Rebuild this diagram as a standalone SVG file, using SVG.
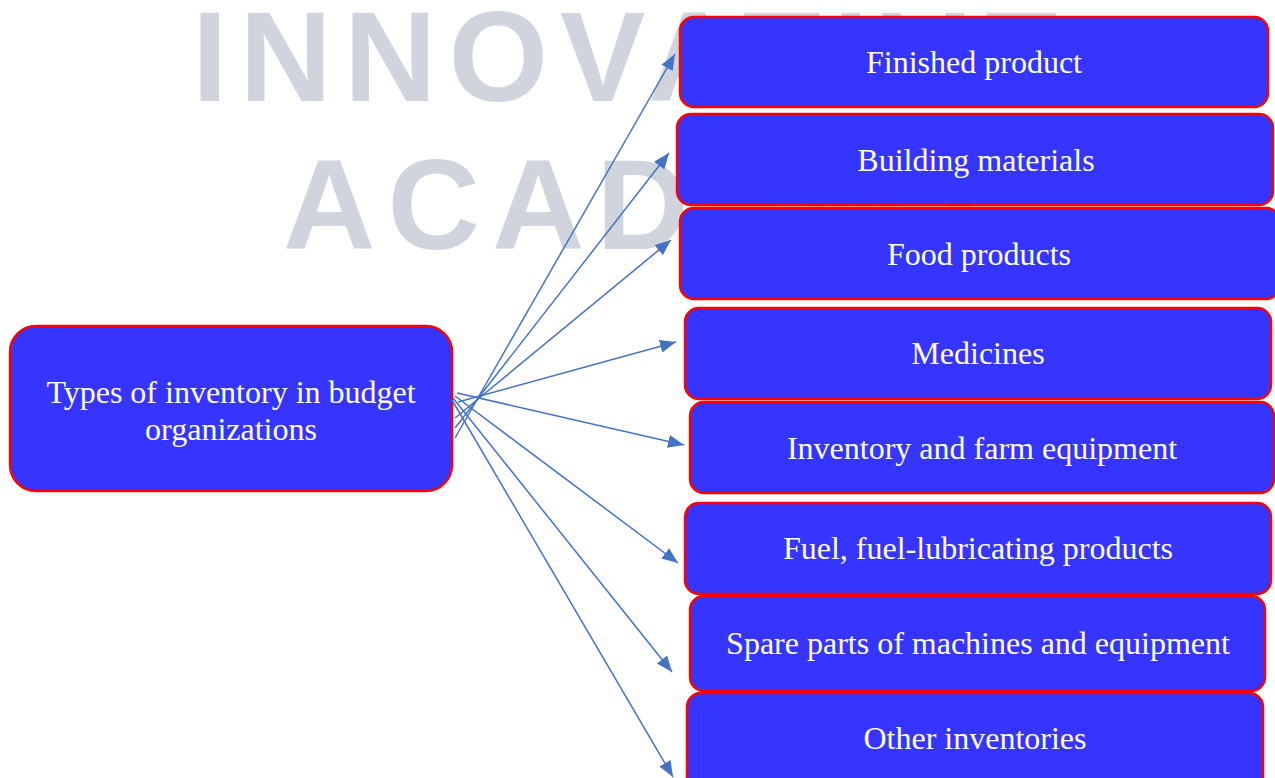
<svg xmlns="http://www.w3.org/2000/svg" width="1275" height="778" viewBox="0 0 1275 778">
  <style>
    .wm { font-family: "Liberation Sans", Arial, sans-serif; font-weight: bold; font-size: 128px; fill: #D0D5DD; letter-spacing: 12px; }
    .box { fill: #3535FF; stroke: #FF0000; stroke-width: 2.5; }
    .lbl { font-family: "Liberation Serif", "Times New Roman", serif; font-size: 32px; fill: #FFFFFF; text-anchor: middle; }
    .conn { stroke: #4472C4; stroke-width: 1.5; fill: none; marker-end: url(#arrow); }
  </style>
  <defs>
    <marker id="arrow" markerUnits="userSpaceOnUse" markerWidth="18" markerHeight="14" refX="16" refY="7" orient="auto">
      <path d="M0,0.5 L16,7 L0,13.5 Z" fill="#4472C4"/>
    </marker>
  </defs>

  <rect width="1275" height="778" fill="#FFFFFF"/>

  <!-- background watermark -->
  <g id="watermark">
    <text class="wm" x="192" y="101">INNOVATIVE</text>
    <text class="wm" x="283" y="249">ACADEMY</text>
  </g>

  <!-- source node -->
  <g id="node-root">
    <rect class="box" x="10" y="326" width="442" height="165" rx="26"/>
    <text class="lbl" x="231" y="403">Types of inventory in budget</text>
    <text class="lbl" x="231" y="440">organizations</text>
  </g>

  <!-- connectors -->
  <g id="connectors">
    <line class="conn" x1="455" y1="438" x2="675" y2="54"/>
    <line class="conn" x1="455" y1="428" x2="669" y2="153"/>
    <line class="conn" x1="455" y1="418" x2="671" y2="240"/>
    <line class="conn" x1="458" y1="402" x2="676" y2="342"/>
    <line class="conn" x1="457" y1="393" x2="684" y2="445"/>
    <line class="conn" x1="455" y1="396" x2="678" y2="563"/>
    <line class="conn" x1="453" y1="398" x2="672" y2="672"/>
    <line class="conn" x1="452" y1="400" x2="673" y2="777"/>
  </g>

  <!-- target nodes -->
  <g id="node-finished">
    <rect class="box" x="680" y="17" width="588" height="90" rx="14"/>
    <text class="lbl" x="974" y="73">Finished product</text>
  </g>
  <g id="node-building">
    <rect class="box" x="677" y="114" width="596" height="91" rx="14"/>
    <text class="lbl" x="976" y="171">Building materials</text>
  </g>
  <g id="node-food">
    <rect class="box" x="680" y="208" width="600" height="91" rx="14"/>
    <text class="lbl" x="979" y="265">Food products</text>
  </g>
  <g id="node-medicines">
    <rect class="box" x="685" y="308" width="586" height="91" rx="14"/>
    <text class="lbl" x="978" y="364">Medicines</text>
  </g>
  <g id="node-inventory">
    <rect class="box" x="690" y="402" width="584" height="91" rx="14"/>
    <text class="lbl" x="982" y="459">Inventory and farm equipment</text>
  </g>
  <g id="node-fuel">
    <rect class="box" x="685" y="503" width="586" height="91" rx="14"/>
    <text class="lbl" x="978" y="559">Fuel, fuel-lubricating products</text>
  </g>
  <g id="node-spare">
    <rect class="box" x="690" y="596" width="575" height="95" rx="14"/>
    <text class="lbl" x="978" y="654">Spare parts of machines and equipment</text>
  </g>
  <g id="node-other">
    <rect class="box" x="687" y="693" width="576" height="100" rx="14"/>
    <text class="lbl" x="975" y="749">Other inventories</text>
  </g>
</svg>
